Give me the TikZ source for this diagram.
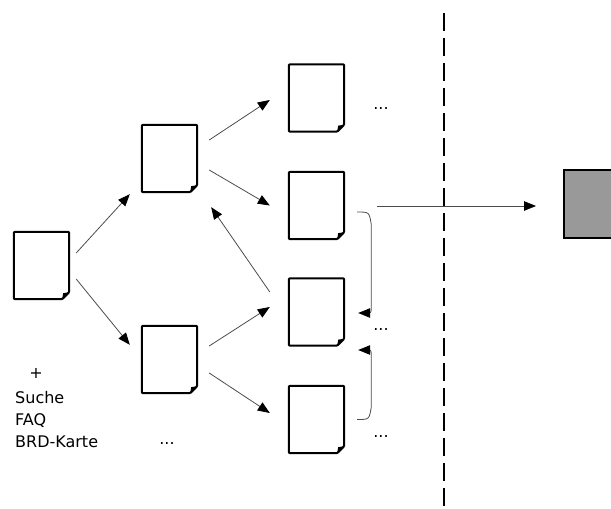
\documentclass[tikz,border=0pt]{standalone}
\usepackage{fontspec}
\setmainfont{DejaVu Sans}
\usetikzlibrary{arrows.meta,calc}
\begin{document}
\begin{tikzpicture}[x=1pt,y=-1pt,
  docnode/.style={minimum width=55pt,minimum height=67pt,inner sep=0pt,draw=none},
  docline/.style={line width=2pt,line join=round},
  link/.style={draw=black!70,line width=0.8pt,-{Triangle[length=12pt,width=9.5pt,color=black]}},
  lbl/.style={font=\fontsize{16}{19}\selectfont,inner sep=0pt}]
\useasboundingbox (0,0) rectangle (611,509);
\clip (0,0) rectangle (611,509);
% pages
\node[docnode] (A) at (41.5,265.5) {};
\node[docnode] (B) at (169.5,158.5) {};
\node[docnode] (C) at (169.5,359.5) {};
\node[docnode] (D1) at (316.5,98) {};
\node[docnode] (D2) at (316.5,205.5) {};
\node[docnode] (D3) at (316.5,312) {};
\node[docnode] (D4) at (316.5,419.5) {};
\foreach \n in {A,B,C,D1,D2,D3,D4} {
  \draw[docline,rounded corners=1pt] (\n.north west) -- (\n.north east) -- ($(\n.south east)+(0,-7)$) -- ($(\n.south east)+(-7,0)$) -- (\n.south west) -- cycle;
  \fill ($(\n.south east)+(-7,0)$) -- ($(\n.south east)+(0,-7)$) -- ($(\n.south east)+(-6,-6)$) -- cycle;
}
% grey box
\node[draw=black,line width=2pt,fill=black!40,minimum width=70pt,minimum height=68pt,inner sep=0pt] (E) at (599,204) {};
% dashed separator
\coordinate (dtop) at (444,13);
\coordinate (dbot) at (444,515);
\draw[line width=2.4pt,dash pattern=on 18pt off 7pt] (dtop) -- (dbot);
% arrows
\draw[link] ($(A.east)+(7,-12.5)$) -- ($(B.south west)+(-12,2)$);
\draw[link] ($(A.east)+(7,13.5)$) -- ($(C.north west)+(-12,19)$);
\draw[link] ($(B.east)+(12,-18.5)$) -- ($(D1.west)+(-19,2)$);
\draw[link] ($(B.east)+(12,11.5)$) -- ($(D2.west)+(-19,0)$);
\draw[link] ($(C.east)+(12,-13.5)$) -- ($(D3.west)+(-19,-5)$);
\draw[link] ($(C.east)+(12,13.5)$) -- ($(D4.west)+(-19,-6.5)$);
\draw[link] ($(D3.west)+(-19,-20)$) -- ($(B.south east)+(14,15)$);
\draw[link] ($(D2.east)+(33,0.5)$) -- ($(E.west)+(-27,2)$);
% brackets
\coordinate (b1s) at ($(D2.east)+(13,6.5)$);
\coordinate (b1e) at ($(D3.east)+(14,1)$);
\draw[link] (b1s) .. controls ($(b1s)+(12,0)$) .. ($(b1s)+(14,12)$) -- ($(b1e)+(13,-12)$) .. controls ($(b1e)+(13,0)$) .. (b1e);
\coordinate (b2s) at ($(D4.east)+(13,0)$);
\coordinate (b2e) at ($(D3.east)+(14,38)$);
\draw[link] (b2s) .. controls ($(b2s)+(12,0)$) .. ($(b2s)+(14,-12)$) -- ($(b2e)+(13,12)$) .. controls ($(b2e)+(13,0)$) .. (b2e);
% labels
\node[lbl,anchor=center] (plus) at (36,373) {+};
\node[lbl,anchor=base west] (suche) at (15,403) {Suche};
\node[lbl,anchor=base west] (faq) at (15,425) {FAQ};
\node[lbl,anchor=base west] (brd) at (15,447) {BRD-Karte};
\node[lbl,anchor=base] (dots1) at (381,109) {...};
\node[lbl,anchor=base] (dots2) at (381,330) {...};
\node[lbl,anchor=base] (dots3) at (381,437) {...};
\node[lbl,anchor=base] (dots4) at (167,444) {...};
\end{tikzpicture}
\end{document}
